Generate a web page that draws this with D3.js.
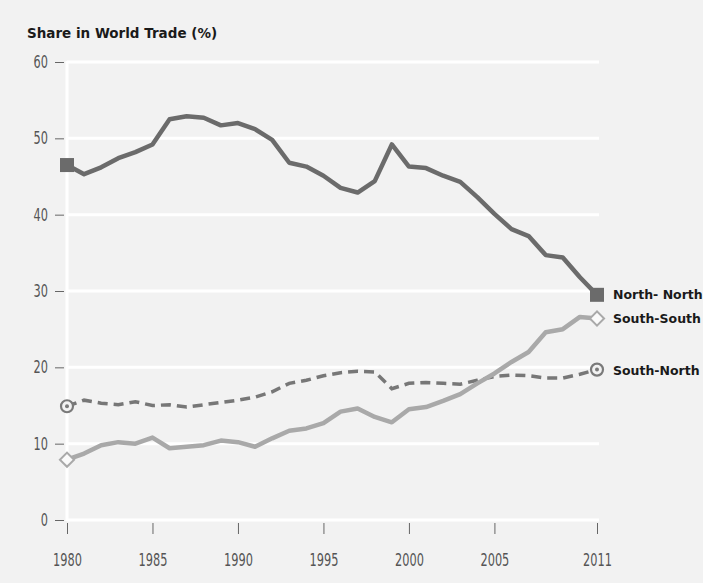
<!DOCTYPE html>
<html>
<head>
<meta charset="utf-8">
<script src="https://cdn.jsdelivr.net/npm/d3@7"></script>
<style>
    body { margin: 0; background: #f2f2f2; }
    svg { display: block; }
</style>
</head>
<body>
<svg id="chart" width="703" height="583"></svg>
<script>
// chart data
var years = d3.range(1980, 2012);
var northNorth = [46.5, 45.3, 46.2, 47.4, 48.2, 49.2, 52.5, 52.9, 52.7, 51.7, 52.0, 51.2,
    49.8, 46.8, 46.3, 45.1, 43.5, 42.9, 44.4, 49.2, 46.3, 46.1, 45.1, 44.3,
    42.3, 40.1, 38.1, 37.2, 34.7, 34.4, 31.8, 29.5];
var southSouth = [7.9, 8.7, 9.8, 10.2, 10.0, 10.8, 9.4, 9.6, 9.8, 10.4, 10.2, 9.6,
    10.7, 11.7, 12.0, 12.7, 14.2, 14.6, 13.5, 12.8, 14.5, 14.8, 15.6, 16.5,
    17.9, 19.2, 20.7, 22.0, 24.6, 25.0, 26.6, 26.4];
var southNorth = [14.9, 15.7, 15.3, 15.1, 15.5, 15.0, 15.1, 14.8, 15.1, 15.4, 15.7, 16.1,
    16.8, 17.9, 18.3, 18.9, 19.3, 19.5, 19.4, 17.2, 17.9, 18.0, 17.9, 17.8,
    18.3, 18.8, 19.0, 18.9, 18.6, 18.6, 19.1, 19.7];
var yTicks = [0, 10, 20, 30, 40, 50, 60];
var xTicks = [1980, 1985, 1990, 1995, 2000, 2005, 2011];
var seriesNames = ["North- North", "South-South", "South-North"];

/**
 * Draws the world trade share line chart
 */
function drawTradeChart()
{
    var svg = d3.select("#chart");

    var x = d3.scaleLinear().domain([1980, 2011]).range([67, 597]);
    var y = d3.scaleLinear().domain([0, 60]).range([520, 62]);

    // title
    svg.append("text")
            .attr("x", 27)
            .attr("y", 38)
            .style("font-family", "'DejaVu Sans', sans-serif")
            .style("font-weight", "bold")
            .style("font-size", "13.5px")
            .style("fill", "#1a1a1a")
            .text("Share in World Trade (%)");

    // white gridlines
    svg.append("g").selectAll("line")
            .data(yTicks)
            .enter().append("line")
            .attr("x1", x(1980))
            .attr("x2", x(2011) + 2)
            .attr("y1", function(d) { return y(d); })
            .attr("y2", function(d) { return y(d); })
            .style("stroke", "#fff")
            .style("stroke-width", "3px");

    svg.append("line")
            .attr("x1", x(1980)).attr("x2", x(1980))
            .attr("y1", y(60) - 1).attr("y2", y(0) + 1)
            .style("stroke", "#fff")
            .style("stroke-width", "3px");

    // y axis
    var yAxis = d3.axisLeft(y)
            .tickValues(yTicks)
            .tickSize(9)
            .tickPadding(7);
    var gy = svg.append("g")
            .attr("transform", "translate(" + (x(1980) - 3) + ",0)")
            .call(yAxis);

    // x axis
    var xAxis = d3.axisBottom(x)
            .tickValues(xTicks)
            .tickFormat(d3.format("d"))
            .tickSize(11)
            .tickPadding(20);
    var gx = svg.append("g")
            .attr("transform", "translate(0," + (y(0) + 3) + ")")
            .call(xAxis);

    // condensed looking tick labels
    [gx, gy].forEach(function(g) {
        g.select(".domain").remove();
        g.selectAll("line").style("stroke", "#666").style("stroke-width", "1px");
        g.selectAll("text")
                .attr("textLength", function() { return this.textContent.length * 7.2; })
                .attr("lengthAdjust", "spacingAndGlyphs")
                .style("font-family", "'DejaVu Sans', sans-serif")
                .style("font-size", "17px")
                .style("fill", "#555");
    });

    var line = d3.line()
            .x(function(d, i) { return x(years[i]); })
            .y(function(d) { return y(d); });

    svg.append("path")
            .datum(southNorth)
            .attr("d", line)
            .style("fill", "none")
            .style("stroke", "#777")
            .style("stroke-width", "3.5px")
            .style("stroke-dasharray", "10,6");

    svg.append("path")
            .datum(southSouth)
            .attr("d", line)
            .style("fill", "none")
            .style("stroke", "#a9a9a9")
            .style("stroke-width", "4.5px")
            .style("stroke-linejoin", "round");

    svg.append("path")
            .datum(northNorth)
            .attr("d", line)
            .style("fill", "none")
            .style("stroke", "#6b6b6b")
            .style("stroke-width", "4.5px")
            .style("stroke-linejoin", "round");

    // end markers
    var last = years.length - 1;
    [0, last].forEach(function(i) {
        svg.append("rect")
                .attr("x", x(years[i]) - 7)
                .attr("y", y(northNorth[i]) - 7)
                .attr("width", 14)
                .attr("height", 14)
                .style("fill", "#6b6b6b");

        svg.append("path")
                .attr("transform", "translate(" + x(years[i]) + "," + y(southSouth[i]) + ") rotate(45)")
                .attr("d", "M-5,-5h10v10h-10z")
                .style("fill", "#fafafa")
                .style("stroke", "#a9a9a9")
                .style("stroke-width", "2px");

        svg.append("circle")
                .attr("cx", x(years[i]))
                .attr("cy", y(southNorth[i]))
                .attr("r", 6)
                .style("fill", "#f2f2f2")
                .style("stroke", "#7a7a7a")
                .style("stroke-width", "2.2px");
        svg.append("circle")
                .attr("cx", x(years[i]))
                .attr("cy", y(southNorth[i]))
                .attr("r", 2)
                .style("fill", "#7a7a7a");
    });

    // series labels at the right
    var labelY = [northNorth[last], southSouth[last], southNorth[last]];
    svg.append("g").selectAll("text")
            .data(seriesNames)
            .enter().append("text")
            .attr("x", 613)
            .attr("y", function(d, i) { return y(labelY[i]) + 5 + (i === 0 ? -1 : 0); })
            .style("font-family", "'DejaVu Sans', sans-serif")
            .style("font-weight", "bold")
            .style("font-size", "12.5px")
            .style("fill", "#1a1a1a")
            .text(function(d) { return d; });
}

drawTradeChart();
</script>
</body>
</html>
